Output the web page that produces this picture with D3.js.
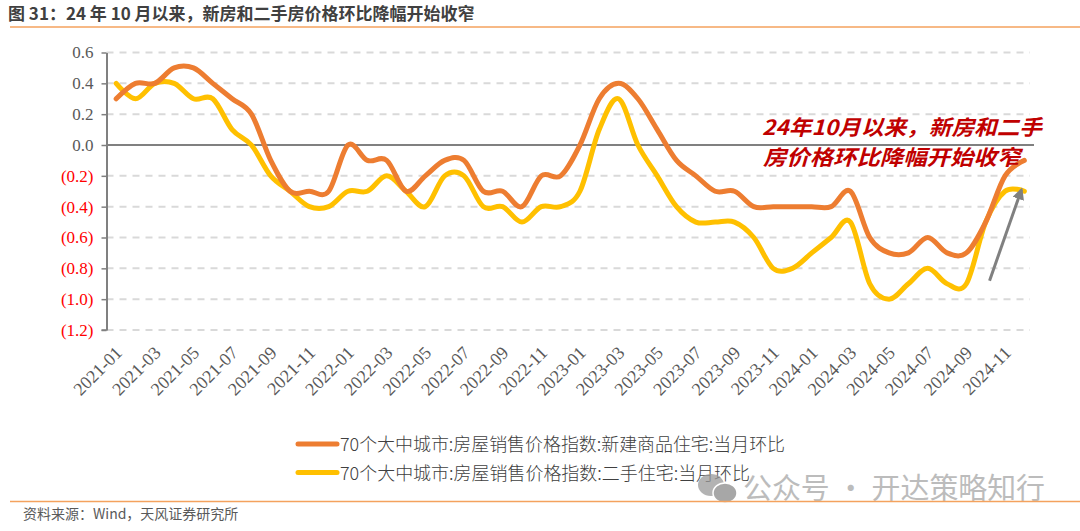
<!DOCTYPE html>
<html><head><meta charset="utf-8">
<script src="https://cdn.jsdelivr.net/npm/d3@7/dist/d3.min.js"></script>
<style>body{margin:0;background:#fff;} svg{display:block;}</style>
</head><body>
<svg id="chart" width="1080" height="531"></svg>
<script>
const months = [
  "2021-01","2021-02","2021-03","2021-04","2021-05","2021-06","2021-07","2021-08","2021-09","2021-10","2021-11","2021-12",
  "2022-01","2022-02","2022-03","2022-04","2022-05","2022-06","2022-07","2022-08","2022-09","2022-10","2022-11","2022-12",
  "2023-01","2023-02","2023-03","2023-04","2023-05","2023-06","2023-07","2023-08","2023-09","2023-10","2023-11","2023-12",
  "2024-01","2024-02","2024-03","2024-04","2024-05","2024-06","2024-07","2024-08","2024-09","2024-10","2024-11","2024-12"
];
const newHome = [
  0.3, 0.4, 0.4, 0.5, 0.5, 0.4, 0.3, 0.2, -0.1, -0.3, -0.3, -0.3,
  0.0, -0.1, -0.1, -0.3, -0.2, -0.1, -0.1, -0.3, -0.3, -0.4, -0.2, -0.2,
  0.0, 0.3, 0.4, 0.3, 0.1, -0.1, -0.2, -0.3, -0.3, -0.4, -0.4, -0.4,
  -0.4, -0.4, -0.3, -0.6, -0.7, -0.7, -0.6, -0.7, -0.7, -0.5, -0.2, -0.1
];
const secondHand = [
  0.4, 0.3, 0.4, 0.4, 0.3, 0.3, 0.1, 0.0, -0.2, -0.3, -0.4, -0.4,
  -0.3, -0.3, -0.2, -0.3, -0.4, -0.2, -0.2, -0.4, -0.4, -0.5, -0.4, -0.4,
  -0.3, 0.1, 0.3, 0.0, -0.2, -0.4, -0.5, -0.5, -0.5, -0.6, -0.8, -0.8,
  -0.7, -0.6, -0.5, -0.9, -1.0, -0.9, -0.8, -0.9, -0.9, -0.5, -0.3, -0.3
];
const yTicks = [0.6, 0.4, 0.2, 0.0, -0.2, -0.4, -0.6, -0.8, -1.0, -1.2];
const xTickLabels = months.filter((m, i) => i % 2 === 0);
const seriesNames = [
  "70个大中城市:房屋销售价格指数:新建商品住宅:当月环比",
  "70个大中城市:房屋销售价格指数:二手住宅:当月环比"
];
const seriesColors = ["#ed7d31", "#ffc000"];
const titleText = "图 31：24 年 10 月以来，新房和二手房价格环比降幅开始收窄";
const sourceText = "资料来源：Wind，天风证券研究所";
const noteLines = ["24年10月以来，新房和二手", "房价格环比降幅开始收窄"];
const watermarkText = "公众号 · 开达策略知行";
// arrow annotation in data coordinates: [monthIndex, value]
const arrowFrom = [45.2, -0.88];
const arrowTo = [46.85, -0.29];

const svg = d3.select("#chart");
svg.append("rect").attr("width", 1080).attr("height", 531).attr("fill", "#fff");

const pLeft = 106.5, pRight = 1034, pTop = 52.5, pBottom = 330;
const x = d3.scaleBand().domain(months).range([pLeft, pRight]).padding(0);
const xi = i => x(months[0]) + x.bandwidth() * (i + 0.5);
const y = d3.scaleLinear().domain([-1.2, 0.6]).range([pBottom, pTop]);

// title
svg.append("text").attr("x", 8).attr("y", 20).text(titleText)
  .attr("font-family", "'Noto Sans CJK SC', sans-serif").attr("font-weight", 700)
  .attr("font-size", 17).attr("fill", "#404040");
svg.append("line").attr("x1", 10).attr("x2", 1080).attr("y1", 27).attr("y2", 27)
  .attr("stroke", "#f4a25e").attr("stroke-width", 1.5);

// gridlines
svg.append("g").selectAll("line").data(yTicks.filter(d => d !== 0)).join("line")
  .attr("x1", pLeft).attr("x2", pRight - 4)
  .attr("y1", d => y(d)).attr("y2", d => y(d))
  .attr("stroke", "#d9d9d9").attr("stroke-width", 2).attr("stroke-dasharray", "7,6");
// zero line
svg.append("line").attr("x1", pLeft).attr("x2", pRight).attr("y1", y(0)).attr("y2", y(0))
  .attr("stroke", "#808080").attr("stroke-width", 2);

// y axis
const fmt = d => {
  const s = Math.abs(d).toFixed(1);
  return d < -1e-9 ? "(" + s + ")" : s;
};
const yAxis = svg.append("g").attr("transform", `translate(${pLeft},0)`)
  .call(d3.axisLeft(y).tickValues(yTicks).tickSize(5).tickSizeOuter(0).tickFormat(fmt).tickPadding(8));
yAxis.select(".domain").attr("stroke", "#808080").attr("stroke-width", 2);
yAxis.selectAll(".tick line").attr("stroke", "#808080").attr("stroke-width", 1.5);
yAxis.selectAll(".tick text")
  .attr("font-family", "'Liberation Serif', 'Times New Roman', serif")
  .attr("font-size", 17)
  .attr("fill", d => d < -1e-9 ? "#ff0000" : "#595959");

// x axis labels
const xAxis = svg.append("g").attr("transform", `translate(0,${pBottom})`)
  .call(d3.axisBottom(x).tickValues(xTickLabels).tickSize(0).tickFormat(d => d));
xAxis.select(".domain").remove();
xAxis.selectAll(".tick text")
  .attr("font-family", "'Liberation Serif', 'Times New Roman', serif")
  .attr("font-size", 18).attr("fill", "#595959")
  .attr("text-anchor", "end").attr("dy", null).attr("y", 0)
  .attr("transform", "translate(7,24) rotate(-45)");
svg.append("line").attr("x1", pLeft - 5).attr("x2", pLeft).attr("y1", pBottom).attr("y2", pBottom)
  .attr("stroke", "#808080").attr("stroke-width", 1.5);

// lines
const line = d3.line().x((d, i) => xi(i)).y(d => y(d)).curve(d3.curveCatmullRom.alpha(0));
[secondHand, newHome].forEach((s, k) => {
  svg.append("path").datum(s).attr("d", line).attr("fill", "none")
    .attr("stroke", k === 0 ? seriesColors[1] : seriesColors[0])
    .attr("stroke-width", 5).attr("stroke-linejoin", "round").attr("stroke-linecap", "round");
});

// annotation text
const noteG = svg.append("g").attr("font-family", "'Noto Sans CJK SC', sans-serif")
  .attr("font-style", "italic").attr("font-weight", 700).attr("fill", "#c00000").attr("font-size", 21);
noteG.append("text").attr("x", 762).attr("y", 135).text(noteLines[0])
  .attr("textLength", 280).attr("lengthAdjust", "spacingAndGlyphs");
noteG.append("text").attr("x", 763).attr("y", 165).text(noteLines[1])
  .attr("textLength", 257).attr("lengthAdjust", "spacingAndGlyphs");

// arrow
const defs = svg.append("defs");
defs.append("marker").attr("id", "ah").attr("viewBox", "0 0 10 10").attr("refX", 8).attr("refY", 5)
  .attr("markerWidth", 4).attr("markerHeight", 4).attr("orient", "auto")
  .append("path").attr("d", "M0,0 L10,5 L0,10 Z").attr("fill", "#808080");
svg.append("line")
  .attr("x1", xi(arrowFrom[0])).attr("y1", y(arrowFrom[1]))
  .attr("x2", xi(arrowTo[0])).attr("y2", y(arrowTo[1]))
  .attr("stroke", "#808080").attr("stroke-width", 3).attr("marker-end", "url(#ah)");

// legend
const legG = svg.append("g");
seriesNames.forEach((name, k) => {
  const ly = 444 + k * 28.5;
  legG.append("line").attr("x1", 298).attr("x2", 337).attr("y1", ly).attr("y2", ly)
    .attr("stroke", seriesColors[k]).attr("stroke-width", 5).attr("stroke-linecap", "round");
  legG.append("text").attr("x", 340).attr("y", ly + 7).text(name)
    .attr("font-family", "'Noto Sans CJK SC', sans-serif").attr("font-weight", 300)
    .attr("font-size", 18).attr("fill", "#404040")
    .attr("textLength", k === 0 ? 445 : 410).attr("lengthAdjust", "spacingAndGlyphs");
});

// watermark
const wm = svg.append("g").attr("opacity", 0.75);
wm.append("ellipse").attr("cx", 711).attr("cy", 485).attr("rx", 13).attr("ry", 11).attr("fill", "#9a9a9a");
wm.append("ellipse").attr("cx", 725).attr("cy", 493).attr("rx", 12).attr("ry", 10).attr("fill", "#8a8a8a")
  .attr("stroke", "#fff").attr("stroke-width", 1.5);
wm.append("text").attr("x", 743).attr("y", 499).text(watermarkText)
  .attr("font-family", "'Noto Sans CJK SC', sans-serif").attr("font-size", 29).attr("fill", "#a6a6a6")
  .attr("textLength", 302).attr("lengthAdjust", "spacingAndGlyphs");

// footer
svg.append("line").attr("x1", 10).attr("x2", 1080).attr("y1", 501.5).attr("y2", 501.5)
  .attr("stroke", "#f4a25e").attr("stroke-width", 1.5);
svg.append("text").attr("x", 23).attr("y", 519).text(sourceText)
  .attr("font-family", "'Noto Sans CJK SC', sans-serif").attr("font-size", 14)
  .attr("fill", "#595959");
</script>
</body></html>
